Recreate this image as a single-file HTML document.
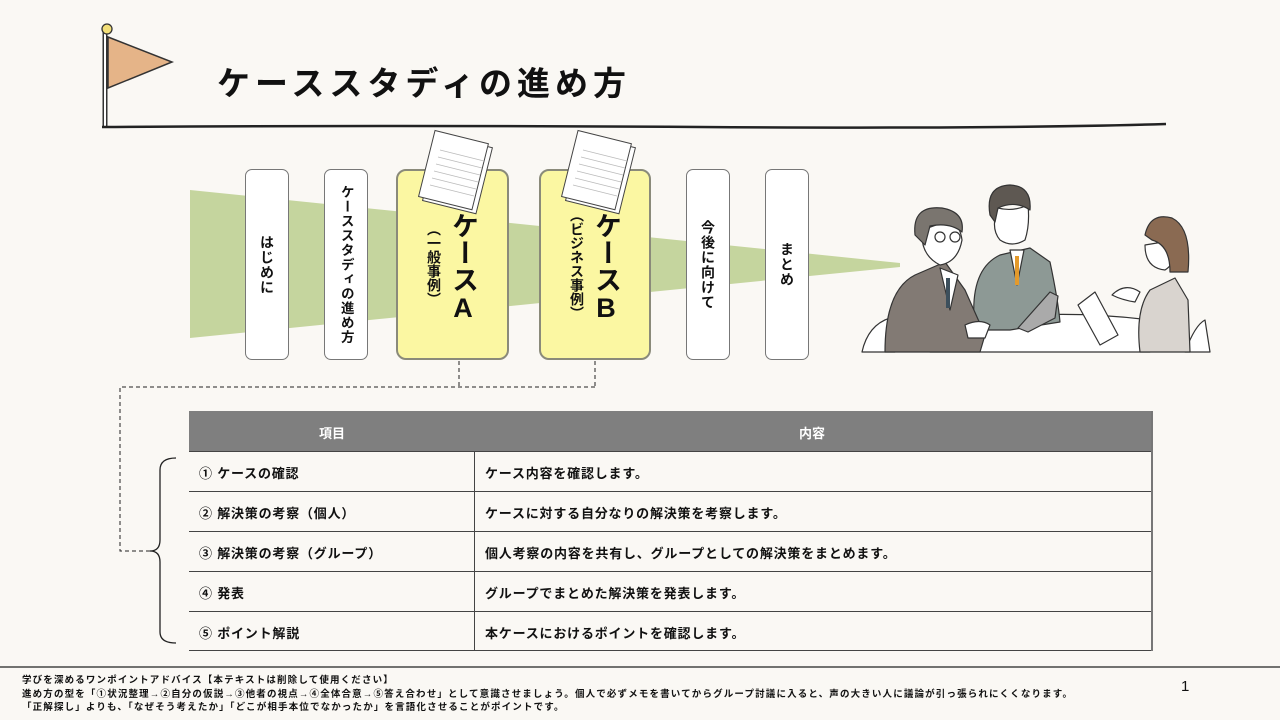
<!DOCTYPE html>
<html><head><meta charset="utf-8">
<style>
*{margin:0;padding:0;box-sizing:border-box}
body{width:1280px;height:720px;background:#faf8f4;position:relative;overflow:hidden;font-family:"Liberation Sans","Noto Sans CJK JP",sans-serif;color:#111}
.a{position:absolute}
.box{position:absolute;background:#fff;border:1.3px solid #777;border-radius:7px;display:flex;align-items:center;justify-content:center}
.v{writing-mode:vertical-rl;text-orientation:upright;font-weight:bold;font-size:14px;letter-spacing:1px;line-height:1}
.y{background:#fbf7a2;border:2px solid #8a8a7a;border-radius:10px}
.row{position:absolute;left:189px;width:963px;height:40px;border-top:1.3px solid #444;font-size:13px;font-weight:bold;letter-spacing:0.8px}
.row span{position:absolute;top:11px}
</style></head><body>
<svg class="a" style="left:0;top:0" width="1280" height="720">
 <line x1="105" y1="30" x2="105" y2="127" stroke="#333" stroke-width="5"/>
 <line x1="105" y1="30" x2="105" y2="127" stroke="#fff" stroke-width="2"/>
 <circle cx="107" cy="29" r="5" fill="#f3df78" stroke="#333" stroke-width="1.3"/>
 <polygon points="108,37 172,62 108,88" fill="#e5b488" stroke="#333" stroke-width="1.5"/>
 <path d="M102 127 Q400 125 700 127 T1166 124" stroke="#222" stroke-width="2.5" fill="none"/>
 <polygon points="190,190 900,263 900,267 190,338" fill="#c5d59e"/>
 <path d="M459 361 V387 M595 361 V387 M595 387 H120 V551 H150" stroke="#222" stroke-width="1" stroke-dasharray="4,3" fill="none"/>
 <path d="M176 458 Q160 458 160 470 V540 Q160 551 150 551 Q160 551 160 562 V632 Q160 643 176 643" stroke="#222" stroke-width="1.3" fill="none"/>
 <line x1="0" y1="667" x2="1280" y2="667" stroke="#222" stroke-width="1.3"/>
 <g stroke="#333" stroke-width="1.2" stroke-linejoin="round">
  <path d="M930 330 Q1030 305 1150 320 L1150 352 L930 352Z" fill="#fff"/>
  <path d="M862 352 Q868 325 890 318 L895 352Z" fill="#fff"/>
  <path d="M1185 352 Q1195 325 1205 320 L1210 352Z" fill="#fff"/>
  <path d="M975 330 Q968 270 1000 255 L1030 248 L1050 262 Q1058 300 1060 322 L1010 330Z" fill="#8d9995"/>
  <path d="M1010 250 L1017 285 L1024 250Z" fill="#fff"/>
  <line x1="1017" y1="256" x2="1017" y2="285" stroke="#e39a2c" stroke-width="4"/>
  <path d="M998 208 Q990 228 1000 240 Q1012 248 1025 240 Q1030 225 1028 205 Q1013 212 998 208Z" fill="#fff"/>
  <path d="M990 215 Q985 186 1010 185 Q1032 186 1030 210 Q1015 200 998 208 L995 222Z" fill="#5e5852"/>
  <path d="M1018 328 L1050 292 L1058 296 L1055 318 L1028 332Z" fill="#aaa"/>
  <path d="M885 352 Q885 290 915 275 L945 262 L965 290 L985 335 L980 352Z" fill="#827a74"/>
  <path d="M940 268 L950 310 L958 275Z" fill="#fff"/>
  <line x1="948" y1="278" x2="948" y2="308" stroke="#3c4f5c" stroke-width="4"/>
  <path d="M922 230 Q920 255 940 265 Q958 262 962 240 Q960 225 950 220Z" fill="#fff"/>
  <path d="M915 235 Q912 205 942 208 Q965 212 962 232 Q950 222 930 226 L925 245Z" fill="#7a756f"/>
  <circle cx="940" cy="237" r="5" fill="none"/><circle cx="955" cy="237" r="5" fill="none"/>
  <path d="M965 325 Q980 318 990 325 L985 338 L968 338Z" fill="#fff"/>
  <path d="M1078 305 L1095 292 L1118 335 L1100 345Z" fill="#fff"/>
  <path d="M1140 352 Q1135 310 1150 290 L1175 278 L1188 300 L1190 352Z" fill="#d9d4cf"/>
  <path d="M1145 245 Q1145 268 1165 270 Q1178 262 1175 240Z" fill="#fff"/>
  <path d="M1145 235 Q1150 212 1172 218 Q1192 228 1188 272 L1170 272 Q1170 245 1152 240Z" fill="#8a6a52"/>
  <path d="M1112 295 Q1125 282 1140 292 L1135 302 Q1122 300 1112 295Z" fill="#fff"/>
 </g>
</svg>
<div class="a" style="left:217px;top:57px;font-size:33px;font-weight:bold;letter-spacing:5px">ケーススタディの進め方</div>

<div class="box" style="left:245px;top:169px;width:44px;height:191px"><div class="v">はじめに</div></div>
<div class="box" style="left:324px;top:169px;width:44px;height:191px"><div class="v" style="font-size:13.5px">ケーススタディの進め方</div></div>
<div class="box y" style="left:396px;top:169px;width:113px;height:191px"></div>
<div class="box y" style="left:539px;top:169px;width:112px;height:191px"></div>
<svg class="a" style="left:0;top:0" width="700" height="240">
 <g stroke="#444" stroke-width="1" fill="#fff">
  <rect x="430" y="140" width="55" height="68" transform="rotate(14 457 174)"/>
  <rect x="426" y="136" width="55" height="68" transform="rotate(14 453 170)"/>
  <rect x="573" y="140" width="55" height="68" transform="rotate(14 600 174)"/>
  <rect x="569" y="136" width="55" height="68" transform="rotate(14 596 170)"/>
 </g>
 <g stroke="#bbb" stroke-width="0.8">
  <path d="M440 150 l44 11 M438 157 l44 11 M436 164 l44 11 M434 171 l44 11 M432 178 l44 11 M430 185 l44 11"/>
  <path d="M583 150 l44 11 M581 157 l44 11 M579 164 l44 11 M577 171 l44 11 M575 178 l44 11 M573 185 l44 11"/>
 </g>
</svg>
<div class="a v" style="left:449px;top:212px;font-size:27px;letter-spacing:0">ケースA</div>
<div class="a v" style="left:427px;top:222px;font-size:14px;letter-spacing:0">（一般事例）</div>
<div class="a v" style="left:592px;top:212px;font-size:27px;letter-spacing:0">ケースB</div>
<div class="a v" style="left:570px;top:208px;font-size:14px;letter-spacing:0">（ビジネス事例）</div>
<div class="box" style="left:686px;top:169px;width:44px;height:191px"><div class="v">今後に向けて</div></div>
<div class="box" style="left:765px;top:169px;width:44px;height:191px"><div class="v">まとめ</div></div>

<div class="a" style="left:189px;top:411px;width:963px;height:40px;background:#7f7f7f;color:#fff;font-size:13px;font-weight:bold">
 <span class="a" style="left:130px;top:12px">項目</span><span class="a" style="left:610px;top:12px">内容</span></div>
<div class="row" style="top:451px"><span style="left:10px">① ケースの確認</span><span style="left:296px">ケース内容を確認します。</span></div>
<div class="row" style="top:491px"><span style="left:10px">② 解決策の考察（個人）</span><span style="left:296px">ケースに対する自分なりの解決策を考察します。</span></div>
<div class="row" style="top:531px"><span style="left:10px">③ 解決策の考察（グループ）</span><span style="left:296px">個人考察の内容を共有し、グループとしての解決策をまとめます。</span></div>
<div class="row" style="top:571px"><span style="left:10px">④ 発表</span><span style="left:296px">グループでまとめた解決策を発表します。</span></div>
<div class="row" style="top:611px;border-bottom:1.3px solid #444"><span style="left:10px">⑤ ポイント解説</span><span style="left:296px">本ケースにおけるポイントを確認します。</span></div>
<div class="a" style="left:474px;top:451px;width:1.3px;height:200px;background:#444"></div>
<div class="a" style="left:1151px;top:411px;width:2px;height:240px;background:#777"></div>

<div class="a" style="left:22px;top:674px;font-size:9.5px;font-weight:bold;line-height:13.5px;white-space:nowrap;letter-spacing:1.15px">学びを深めるワンポイントアドバイス【本テキストは削除して使用ください】<br>進め方の型を「①状況整理→②自分の仮説→③他者の視点→④全体合意→⑤答え合わせ」として意識させましょう。個人で必ずメモを書いてからグループ討議に入ると、声の大きい人に議論が引っ張られにくくなります。<br>「正解探し」よりも、「なぜそう考えたか」「どこが相手本位でなかったか」を言語化させることがポイントです。</div>
<div class="a" style="left:1181px;top:678px;font-size:15px">1</div>
</body></html>
